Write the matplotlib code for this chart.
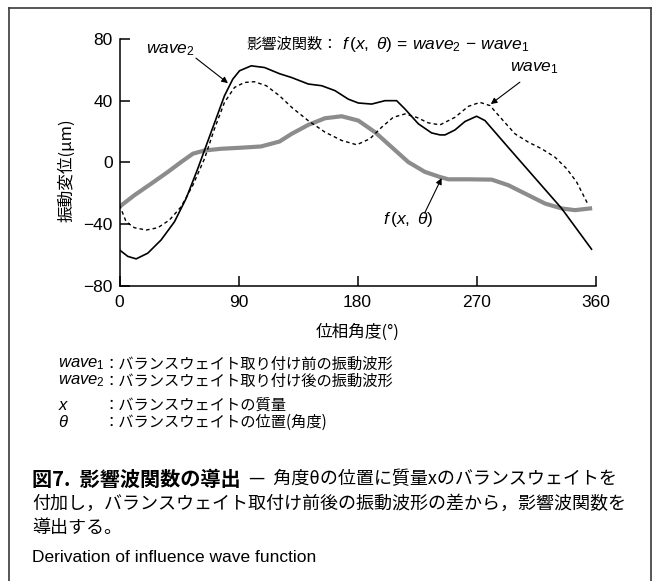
import matplotlib
matplotlib.use("Agg")
import matplotlib.pyplot as plt
from matplotlib.lines import Line2D

plt.rcParams['font.family'] = ['Liberation Sans', 'DejaVu Sans']
plt.rcParams['mathtext.fontset'] = 'custom'
plt.rcParams['mathtext.rm'] = 'Liberation Sans'
plt.rcParams['mathtext.it'] = 'Liberation Sans:italic'
plt.rcParams['mathtext.bf'] = 'Liberation Sans:bold'

JP = ['Noto Sans CJK JP', 'DejaVu Sans']

# wave1: vibration waveform before the balance weight is attached (dashed)
theta_w1 = [0, 5, 11.3, 20.2, 29, 37.8, 46.6, 55.5, 64.3, 71.8, 79.4, 87, 94.5,
            102, 111, 121, 130.2, 142.8, 155.4, 168, 179.4, 189.4, 198.3, 207,
            215.9, 224.7, 233.6, 242.4, 253.7, 263.8, 272.6, 280.2, 289, 299.1,
            309.2, 319.3, 329.3, 338.2, 345.7, 350.8, 354.6]
wave1 = [-27.7, -38.5, -42.4, -43.9, -42.4, -37.4, -28.8, -14.8, 2.4, 21.7, 38.9,
         48.6, 51.8, 52.3, 49.7, 43.2, 35.7, 27.0, 19.6, 14.2, 11.4, 15.3, 22.8,
         29.2, 31.4, 29.2, 25.6, 24.3, 29.2, 36.3, 38.9, 36.8, 28.2, 18.5, 13.1,
         8.8, 3.4, -4.1, -12.7, -21.3, -27.7]

# wave2: vibration waveform after the balance weight is attached (solid)
theta_w2 = [0, 6.3, 12.6, 21.4, 31.5, 41.6, 50.4, 59.2, 69.3, 79.4, 85.7, 90.8,
            99.6, 109.7, 121, 130.2, 142.8, 152.9, 163, 173, 180.6, 190.7, 200.8,
            209.6, 215.9, 226, 236, 242.4, 246.2, 253.7, 261.3, 270.1, 276.4, 284,
            294, 304.1, 314.2, 324.3, 334.4, 344.5, 357]
wave2 = [-56.8, -61, -62.6, -58.9, -50.3, -38.5, -23.4, -4.1, 19.6, 43.2, 54, 59.4,
         62.6, 61.5, 57.5, 55, 50.8, 49.7, 46.5, 41, 38.5, 37.8, 40, 40, 34.6, 25,
         19.1, 17.8, 17.8, 21, 26.5, 29.9, 27.1, 19.6, 9.7, -0.2, -10.1, -20,
         -29.9, -41.7, -56.3]

# f(x, theta): influence wave function (thick grey)
theta_f = [0, 11.3, 24, 36.6, 46.6, 55.5, 64.3, 76.9, 92, 107, 121, 130.2, 142.8,
           155.4, 168, 180.6, 193.2, 205.8, 218.4, 231, 242.4, 248.7, 263.8, 281.5,
           294, 309.2, 321.8, 334.4, 344.5, 355.9]
f_vals = [-28.8, -21.3, -13.8, -6.2, 0.2, 5.6, 7.7, 8.8, 9.5, 10.3, 13.5, 18.5,
          24.3, 28.6, 29.9, 27.1, 19.6, 9.9, 0.2, -6.2, -9.5, -11, -11, -11.2,
          -14.8, -21.3, -26.7, -29.9, -31, -29.9]

x_ticks = [0, 90, 180, 270, 360]
y_ticks = [-80, -40, 0, 40, 80]

W, H = 653, 581
fig = plt.figure(figsize=(W / 100, H / 100), dpi=100)


def fx(px):
    return px / W


def fy(py):
    return 1 - py / H


# outer frame, open at the bottom
frame_kw = dict(color='#3a3a3a', lw=1.2, transform=fig.transFigure)
fig.add_artist(Line2D([fx(9), fx(9)], [fy(8), 0], **frame_kw))
fig.add_artist(Line2D([fx(9), fx(651)], [fy(8), fy(8)], **frame_kw))
fig.add_artist(Line2D([fx(651), fx(651)], [fy(8), 0], **frame_kw))

ax = fig.add_axes([fx(119.5), fy(285.7), (595.5 - 119.5) / W, (285.7 - 39) / H])
ax.plot(theta_f, f_vals, color='#8c8c8c', lw=3.0, solid_joinstyle='round', zorder=2)
ax.plot(theta_w1, wave1, color='black', lw=1.0, ls=(0, (2.6, 2.2)), zorder=3)
ax.plot(theta_w2, wave2, color='black', lw=1.2, solid_joinstyle='round', zorder=3)

ax.set_xlim(0, 360)
ax.set_ylim(-80, 80)
ax.set_xticks(x_ticks)
ax.set_yticks(y_ticks)
ax.set_yticklabels([str(v).replace('-', '\u2212') for v in y_ticks])
for s in ('top', 'right'):
    ax.spines[s].set_visible(False)
for s in ('left', 'bottom'):
    ax.spines[s].set_linewidth(1.1)
ax.tick_params(direction='in', length=7, width=1.1, labelsize=12.5, colors='black')
ax.tick_params(axis='y', pad=5)
ax.tick_params(axis='x', pad=7)

# axis titles
fig.text(fx(67), fy(170), '振動変位(μm)', rotation=90, ha='center', va='center',
         family=JP, fontsize=12)
fig.text(fx(358), fy(332), '位相角度(°)', ha='center', va='center',
         family=JP, fontsize=12)

# formula heading inside the plot
fig.text(fx(246), fy(44), '影響波関数：', ha='left', va='center', family=JP, fontsize=11)
fig.text(fx(342), fy(44),
         r'$f\,(x,\ \theta)\,=\,wave_\mathrm{2}\,-\,wave_\mathrm{1}$',
         ha='left', va='center', fontsize=12.5)

# curve labels with leader arrows
arrow_kw = dict(arrowstyle='-|>', lw=0.8, color='black', mutation_scale=9,
                shrinkA=0, shrinkB=0)
ax.annotate('', xy=(82, 51.4), xytext=(57.8, 67.6), arrowprops=arrow_kw)
ax.annotate('', xy=(280.8, 37.8), xytext=(302.8, 52), arrowprops=arrow_kw)
ax.annotate('', xy=(243.6, -10.2), xytext=(230.8, -32.9), arrowprops=arrow_kw)
ax.text(20, 72.8, r'$wave_\mathrm{2}$', ha='left', va='center', fontsize=12.5)
ax.text(295.3, 61.4, r'$wave_\mathrm{1}$', ha='left', va='center', fontsize=12.5)
ax.text(199.3, -37.2, r'$f\,(x,\ \theta)$', ha='left', va='center', fontsize=12.5)

# symbol definitions
defs = [
    (r'$wave_\mathrm{1}$', '：バランスウェイト取り付け前の振動波形', 364),
    (r'$wave_\mathrm{2}$', '：バランスウェイト取り付け後の振動波形', 381),
    (r'$x$', '：バランスウェイトの質量', 405),
    (r'$\theta$', '：バランスウェイトの位置(角度)', 422),
]
for sym, desc, py in defs:
    fig.text(fx(58), fy(py), sym, ha='left', va='center', fontsize=12)
    fig.text(fx(104), fy(py), desc, ha='left', va='center', family=JP, fontsize=11)

# figure caption
fig.text(fx(32), fy(479), '図7.  影響波関数の導出', ha='left', va='center',
         family=JP, fontsize=14.5, fontweight='bold')
fig.text(fx(249), fy(479), '—  角度θの位置に質量xのバランスウェイトを', ha='left',
         va='center', family=JP, fontsize=13)
fig.text(fx(32), fy(504), '付加し，バランスウェイト取付け前後の振動波形の差から，影響波関数を',
         ha='left', va='center', family=JP, fontsize=13)
fig.text(fx(32), fy(528), '導出する。', ha='left', va='center', family=JP, fontsize=13)
fig.text(fx(32), fy(558), 'Derivation of influence wave function', ha='left',
         va='center', fontsize=12.5)

fig.savefig('out.png', dpi=100)
